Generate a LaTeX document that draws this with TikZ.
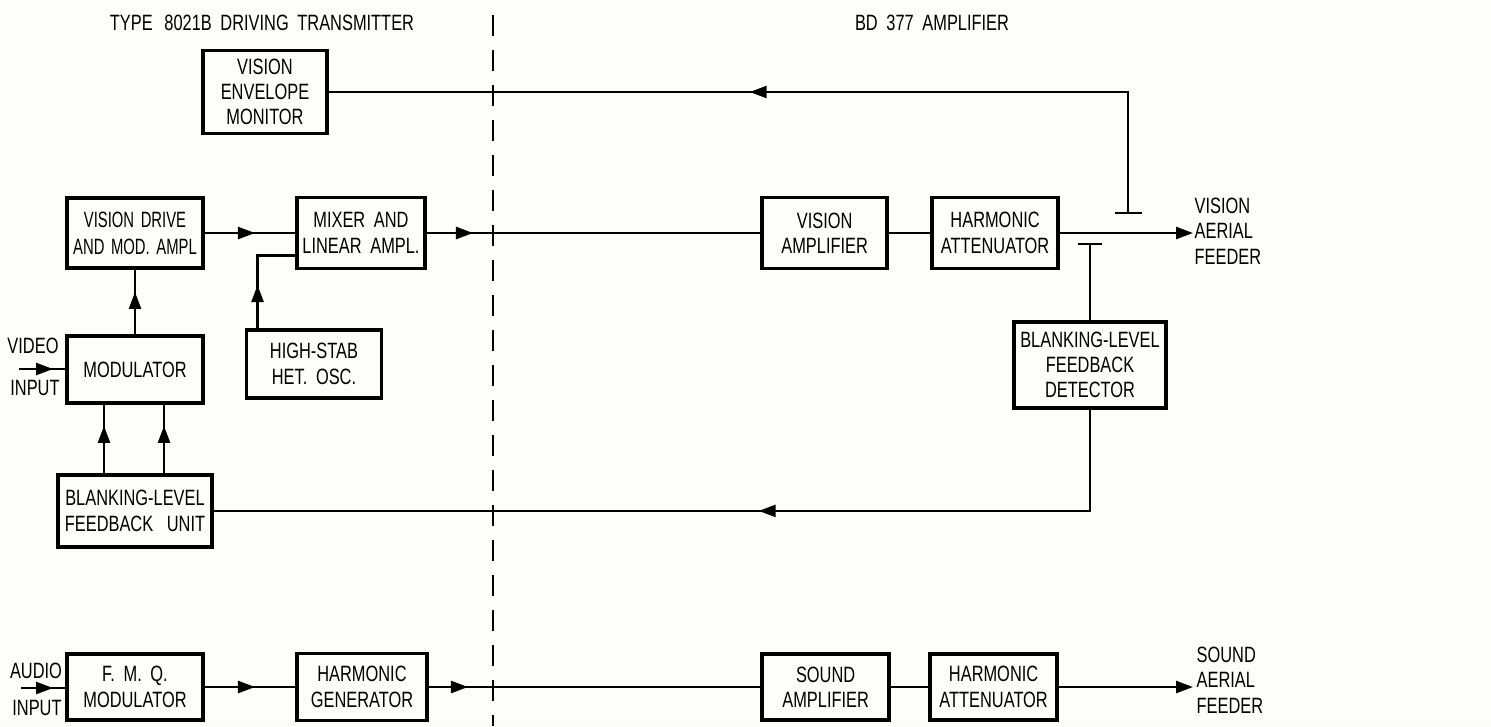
\documentclass[tikz,border=0pt]{standalone}
\usepackage{fontspec}
\setmainfont[FakeStretch=0.74,WordSpace=1.9]{Liberation Sans}
\newfontfamily\narrowfont[FakeStretch=0.67,WordSpace=1.6]{Liberation Sans}
\usepackage{tikz}
\usetikzlibrary{arrows.meta,positioning,calc,decorations.markings}
\definecolor{colorPaper}{RGB}{254,254,248}

\begin{document}
\begin{tikzpicture}[x=0.01cm,y=-0.01cm,node distance=0cm,
  font={\fontsize{6.3}{7.2}\selectfont},
  >={Triangle[length=0.17cm,width=0.12cm]},
  blk/.style={draw,line width=1.1pt,minimum width=1.3cm,minimum height=0.68cm,align=center,inner sep=1pt},
  feed/.style={line width=0.7pt},
  arrowat/.style={postaction={decorate},decoration={markings,mark=at position #1 with {\arrow{>}}}},
  divider/.style={line width=0.7pt,dash pattern=on 0.21cm off 0.14cm}]
  \useasboundingbox (0,0) rectangle (1491,726);
  \fill[colorPaper] (0,0) rectangle (1491,726);
  \node (drvtitle) at (262,23) {TYPE\hspace{0.03cm} 8021B DRIVING TRANSMITTER};
  \node (amptitle) at (932,23) {BD 377 AMPLIFIER};
  \coordinate (divtop) at (493,15);
  \coordinate (divbot) at (493,726);
  \draw[divider] (divtop) -- (divbot);

  \node[blk,minimum width=1.24cm,minimum height=0.83cm] (envmon) at (265,92) {VISION\\ENVELOPE\\MONITOR};
  \node[blk,minimum width=1.36cm,minimum height=0.70cm,font={\narrowfont\fontsize{6.3}{7.6}\selectfont}] (vdma) at (135,233) {VISION DRIVE\\AND MOD. AMPL};
  \node[blk,minimum width=1.28cm,minimum height=0.71cm,right=0.90cm of vdma] (mixer) {MIXER AND\\LINEAR AMPL.};
  \node[blk,minimum width=1.25cm,minimum height=0.71cm,right=3.33cm of mixer] (visamp) {VISION\\AMPLIFIER};
  \node[blk,minimum width=1.26cm,minimum height=0.71cm,right=0.41cm of visamp] (visatt) {HARMONIC\\ATTENUATOR};
  \node[blk,minimum width=1.36cm,minimum height=0.67cm,below=0.64cm of vdma] (mod) {MODULATOR};
  \node[blk,minimum width=1.35cm,minimum height=0.68cm] (hsho) at (314,364) {HIGH-STAB\\HET. OSC.};
  \node[blk,minimum width=1.54cm,minimum height=0.72cm,below=0.68cm of mod] (blfu) {BLANKING-LEVEL\\FEEDBACK\hspace{0.05cm} UNIT};
  \node[blk,minimum width=1.52cm,minimum height=0.86cm] (det) at (1090,365) {BLANKING-LEVEL\\FEEDBACK\\DETECTOR};
  \node[blk,minimum width=1.36cm,minimum height=0.66cm] (fmq) at (135,687) {F. M. Q.\\MODULATOR};
  \node[blk,minimum width=1.30cm,minimum height=0.67cm,right=0.90cm of fmq] (harmgen) {HARMONIC\\GENERATOR};
  \node[blk,minimum width=1.27cm,minimum height=0.66cm,right=3.31cm of harmgen] (sndamp) {SOUND\\AMPLIFIER};
  \node[blk,minimum width=1.27cm,minimum height=0.66cm,right=0.37cm of sndamp] (sndatt) {HARMONIC\\ATTENUATOR};

  \coordinate (visout) at (1193,231);
  \coordinate (sndout) at (1193,685);
  \coordinate (vidin) at (19,369);
  \coordinate (audin) at (21,688);
  \coordinate (cplup) at (1128,213);
  \coordinate (cpllo) at (det.north |- 0,244);

  \node[right=0.01cm of visout,align=left,inner sep=0pt] (vislbl) {VISION\\AERIAL\\FEEDER};
  \node[right=0.03cm of sndout,align=left,inner sep=0pt,yshift=0.05cm] (sndlbl) {SOUND\\AERIAL\\FEEDER};
  \node (vidtop) at (33,346) {VIDEO};
  \node (vidbot) at (35,388) {INPUT};
  \node (audtop) at (36,671) {AUDIO};
  \node (audbot) at (37,708) {INPUT};

  \draw[feed,arrowat=0.5cm] (vdma.east) -- (mixer.west);
  \draw[feed,arrowat=0.46cm] (mixer.east) -- (visamp.west);
  \draw[feed] (visamp.east) -- (visatt.west);
  \draw[feed,->] (visatt.east) -- (visatt.east -| visout);
  \draw[feed] ([xshift=-0.135cm]cplup) -- ([xshift=0.135cm]cplup);
  \draw[feed,arrowat=4.99cm] (cplup) |- (envmon.east);
  \draw[feed] ([xshift=-0.12cm]cpllo) -- ([xshift=0.12cm]cpllo);
  \draw[feed] (cpllo) -- (det.north);
  \draw[feed,arrowat=4.32cm] (det.south) |- (blfu.east);
  \draw[feed,arrowat=0.42cm] (mod.north) -- (vdma.south);
  \foreach \dx in {-0.31,0.29}
    \draw[feed,arrowat=0.47cm] ([xshift=\dx cm]blfu.north) -- ([xshift=\dx cm]mod.south);
  \draw[feed,arrowat=0.43cm] ([xshift=0.13cm]hsho.north west) |- ([yshift=-0.225cm]mixer.west);
  \draw[feed,arrowat=0.34cm] (vidin) -- (vidin -| mod.west);
  \draw[feed,arrowat=0.5cm] (fmq.east) -- (harmgen.west);
  \draw[feed,arrowat=0.39cm] (harmgen.east) -- (sndamp.west);
  \draw[feed] (sndamp.east) -- (sndatt.west);
  \draw[feed,->] (sndatt.east) -- (sndatt.east -| sndout);
  \draw[feed,arrowat=0.32cm] (audin) -- (audin -| fmq.west);
\end{tikzpicture}
\end{document}
